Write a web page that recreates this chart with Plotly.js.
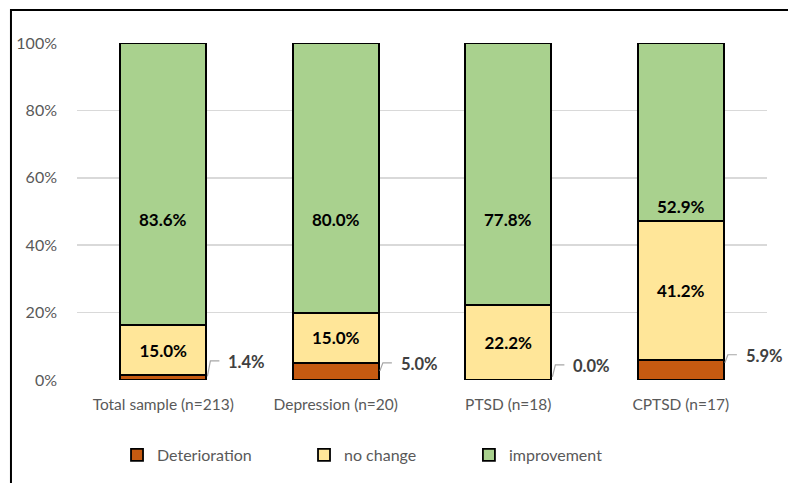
<!DOCTYPE html>
<html>
<head>
<meta charset="utf-8">
<script src="https://cdn.plot.ly/plotly-3.0.1.min.js"></script>
<style>html,body{margin:0;padding:0;background:#fff;}#chart{width:788px;height:483px;}</style>
</head>
<body>
<div id="chart"></div>
<script>
// ---- data ----
const categories = ["Total sample (n=213)", "Depression (n=20)", "PTSD (n=18)", "CPTSD (n=17)"];
const deterioration = [1.4, 5.0, 0.0, 5.9];
const noChange = [15.0, 15.0, 22.2, 41.2];
const improvement = [83.6, 80.0, 77.8, 52.9];
const seriesNames = ["Deterioration", "no change", "improvement"];
const yTickVals = [0, 20, 40, 60, 80, 100];
const yTickText = ["0%", "20%", "40%", "60%", "80%", "100%"];

// ---- label placement (layout, not data) ----
const detLabelY = [5.3, 4.7, 4.1, 7.1];
const impLabelY = [47.6, 47.6, 47.6, 51.5];

const colors = ["#C55A11", "#FFE699", "#A9D18E"];
const FONT = "Lato, 'Open Sans', sans-serif";
const xIdx = categories.map((c, i) => i);
const fmt = v => v.toFixed(1) + "%";

const barLine = {color: "#000000", width: 1.8};
const traces = [
  {type: "bar", name: seriesNames[0], x: xIdx, y: deterioration,
   marker: {color: colors[0], line: barLine}, textposition: "none",
   hoverinfo: "skip", legend: "legend"},
  {type: "bar", name: seriesNames[1], x: xIdx, y: noChange,
   marker: {color: colors[1], line: barLine},
   text: noChange.map(fmt), textposition: "inside", insidetextanchor: "middle",
   textangle: 0, constraintext: "none",
   textfont: {family: FONT, size: 17, color: "#000000", weight: "bold"},
   hoverinfo: "skip", legend: "legend2"},
  {type: "bar", name: seriesNames[2], x: xIdx, y: improvement,
   marker: {color: colors[2], line: barLine}, textposition: "none",
   hoverinfo: "skip", legend: "legend3"}
];

const annotations = [];
const shapes = [];
categories.forEach((c, i) => {
  annotations.push({x: i, y: impLabelY[i], xref: "x", yref: "y", text: "<b>" + fmt(improvement[i]) + "</b>",
    showarrow: false, font: {family: FONT, size: 17, color: "#000000"}});
  annotations.push({x: i + 0.25, y: detLabelY[i], xref: "x", yref: "y", xanchor: "left", xshift: 20,
    text: "<b>" + fmt(deterioration[i]) + "</b>", showarrow: false,
    font: {family: FONT, size: 16.5, color: "#404040"}});
  const y0 = Math.max(0.9, Math.min(deterioration[i] - 0.3, detLabelY[i] - 2));
  const yb = detLabelY[i] + 0.4;
  shapes.push({type: "path", xref: "x", yref: "y", xsizemode: "pixel", xanchor: i + 0.25,
    path: `M 1,${y0} L 4,${yb} L 13,${yb}`, line: {color: "#A6A6A6", width: 1.2}});
});

// outer chart border (only top & left visible in frame)
shapes.push({type: "rect", xref: "paper", yref: "paper", x0: -0.0957, x1: 1.2, y0: -0.5, y1: 1.0976,
  line: {color: "#000000", width: 2}, fillcolor: "rgba(0,0,0,0)", layer: "above"});

const legendBase = {orientation: "h", yanchor: "middle", xanchor: "left", y: -0.219,
  font: {family: FONT, size: 16, color: "#595959"}, bgcolor: "rgba(0,0,0,0)", itemwidth: 30};

const layout = {
  width: 788, height: 483,
  margin: {l: 77, r: 21, t: 43, b: 102},
  paper_bgcolor: "#FFFFFF", plot_bgcolor: "#FFFFFF",
  barmode: "stack", bargap: 0.5,
  font: {family: FONT, color: "#595959"},
  xaxis: {tickmode: "array", tickvals: xIdx, ticktext: categories, range: [-0.5, 3.5],
    showgrid: false, zeroline: false, showline: false, ticks: "",
    ticklabelstandoff: 13,
    tickfont: {family: FONT, size: 15.5, color: "#595959"}, fixedrange: true},
  yaxis: {range: [0, 100], tickmode: "array", tickvals: yTickVals, ticktext: yTickText, showgrid: true,
    gridcolor: "#D9D9D9", gridwidth: 1.5, zeroline: false, showline: false, ticks: "",
    ticklabelstandoff: 19,
    tickfont: {family: FONT, size: 16, color: "#595959"}, fixedrange: true},
  showlegend: true,
  legend: Object.assign({}, legendBase, {x: 0.058}),
  legend2: Object.assign({}, legendBase, {x: 0.329}),
  legend3: Object.assign({}, legendBase, {x: 0.568}),
  annotations: annotations,
  shapes: shapes
};

Plotly.newPlot("chart", traces, layout, {staticPlot: true, displayModeBar: false});
</script>
</body>
</html>
